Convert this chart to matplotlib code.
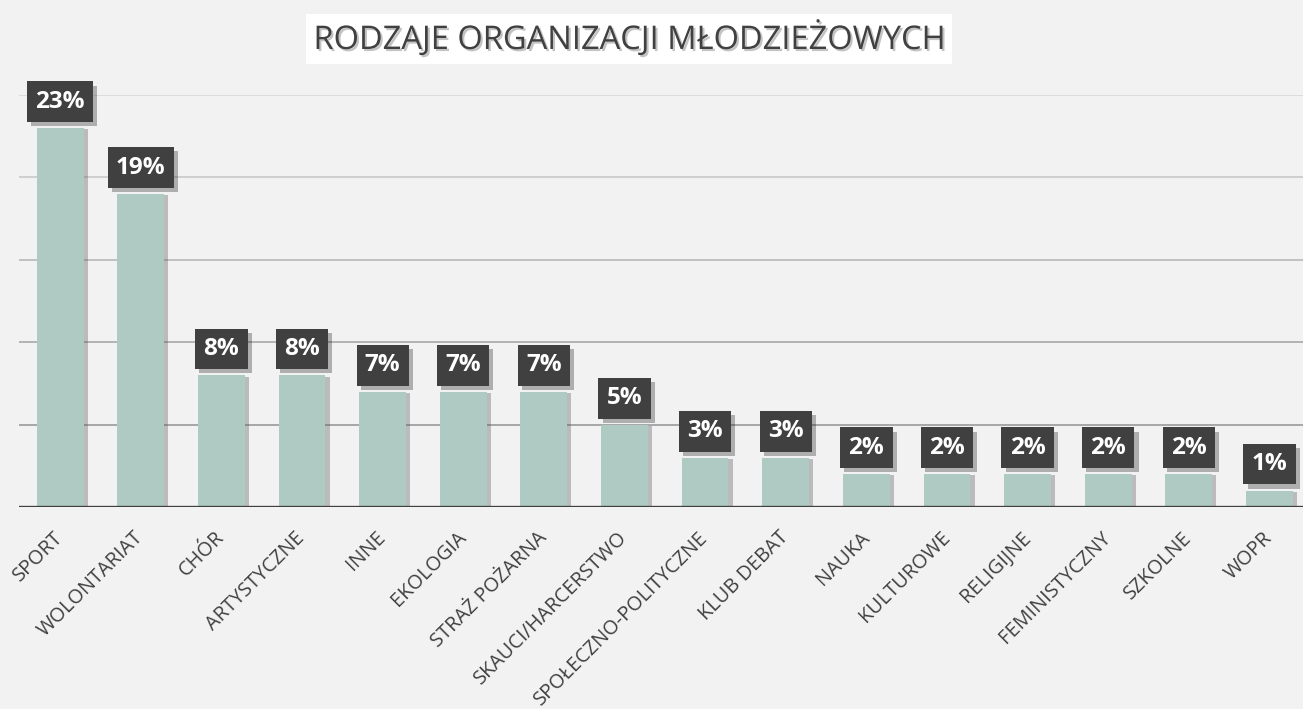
import numpy as np
import matplotlib
matplotlib.use('Agg')
import matplotlib.pyplot as plt
import matplotlib.patheffects as pe

plt.rcParams['font.family'] = ['Open Sans', 'DejaVu Sans']

categories = ['SPORT', 'WOLONTARIAT', 'CHÓR', 'ARTYSTYCZNE', 'INNE', 'EKOLOGIA',
              'STRAŻ POŻARNA', 'SKAUCI/HARCERSTWO', 'SPOŁECZNO-POLITYCZNE',
              'KLUB DEBAT', 'NAUKA', 'KULTUROWE', 'RELIGIJNE', 'FEMINISTYCZNY',
              'SZKOLNE', 'WOPR']
values = [23, 19, 8, 8, 7, 7, 7, 5, 3, 3, 2, 2, 2, 2, 2, 1]
title = 'RODZAJE ORGANIZACJI MŁODZIEŻOWYCH'

bg = '#f2f2f2'
bar_c = '#afcac3'
dark = '#404040'

fig = plt.figure(figsize=(13.03, 7.09), dpi=100, facecolor=bg)
W, H = 1303, 709
ax = fig.add_axes([19 / W, (H - 507) / H, 1290 / W, 412 / H], facecolor=bg)

x = np.arange(len(categories))
# gridlines, lighter towards the top
grid_cols = ['#9a9a9a', '#a8a8a8', '#b8b8b8', '#c8c8c8', '#d8d8d8']
for g, c in zip([5, 10, 15, 20, 25], grid_cols):
    ax.axhline(g, color=c, lw=1.2, zorder=0)

bars = ax.bar(x, values, width=0.58, color=bar_c, zorder=2)
for b in bars:
    b.set_path_effects([pe.SimplePatchShadow(offset=(3, -1), alpha=0.35, shadow_rgbFace='#555555'),
                        pe.Normal()])

ax.axhline(0, color=dark, lw=2.4, zorder=3,
           path_effects=[pe.SimpleLineShadow(offset=(0, -1.5), alpha=0.3), pe.Normal()])

for i, v in zip(x, values):
    t = ax.annotate(f'{v}%', (i, v), xytext=(0, 10.3), textcoords='offset points',
                    ha='center', va='bottom', color='white', fontsize=17.5,
                    fontweight='bold', zorder=5,
                    bbox=dict(boxstyle='square,pad=0.34', fc=dark, ec='none'))
    t.get_bbox_patch().set_path_effects([pe.SimplePatchShadow(offset=(3, -3), alpha=0.3), pe.Normal()])

ax.set_xlim(-0.51, 15.49)
ax.set_ylim(0, 25)
ax.set_yticks([])
ax.set_xticks(x)
ax.set_xticklabels(categories, rotation=45, ha='right', va='center',
                   rotation_mode='anchor', fontsize=14.3, color=dark)
ax.tick_params(axis='x', length=0, pad=20)
for s in ax.spines.values():
    s.set_visible(False)

fig.text(629 / W, 1 - 39 / H, title, ha='center', va='center', fontsize=23.5,
         color=dark,
         bbox=dict(boxstyle='square,pad=0.22', fc='white', ec='none'),
         path_effects=[pe.SimplePatchShadow(offset=(1.5, -1.5), alpha=0.25), pe.Normal()])

fig.savefig('out.png', dpi=100, facecolor=bg)
